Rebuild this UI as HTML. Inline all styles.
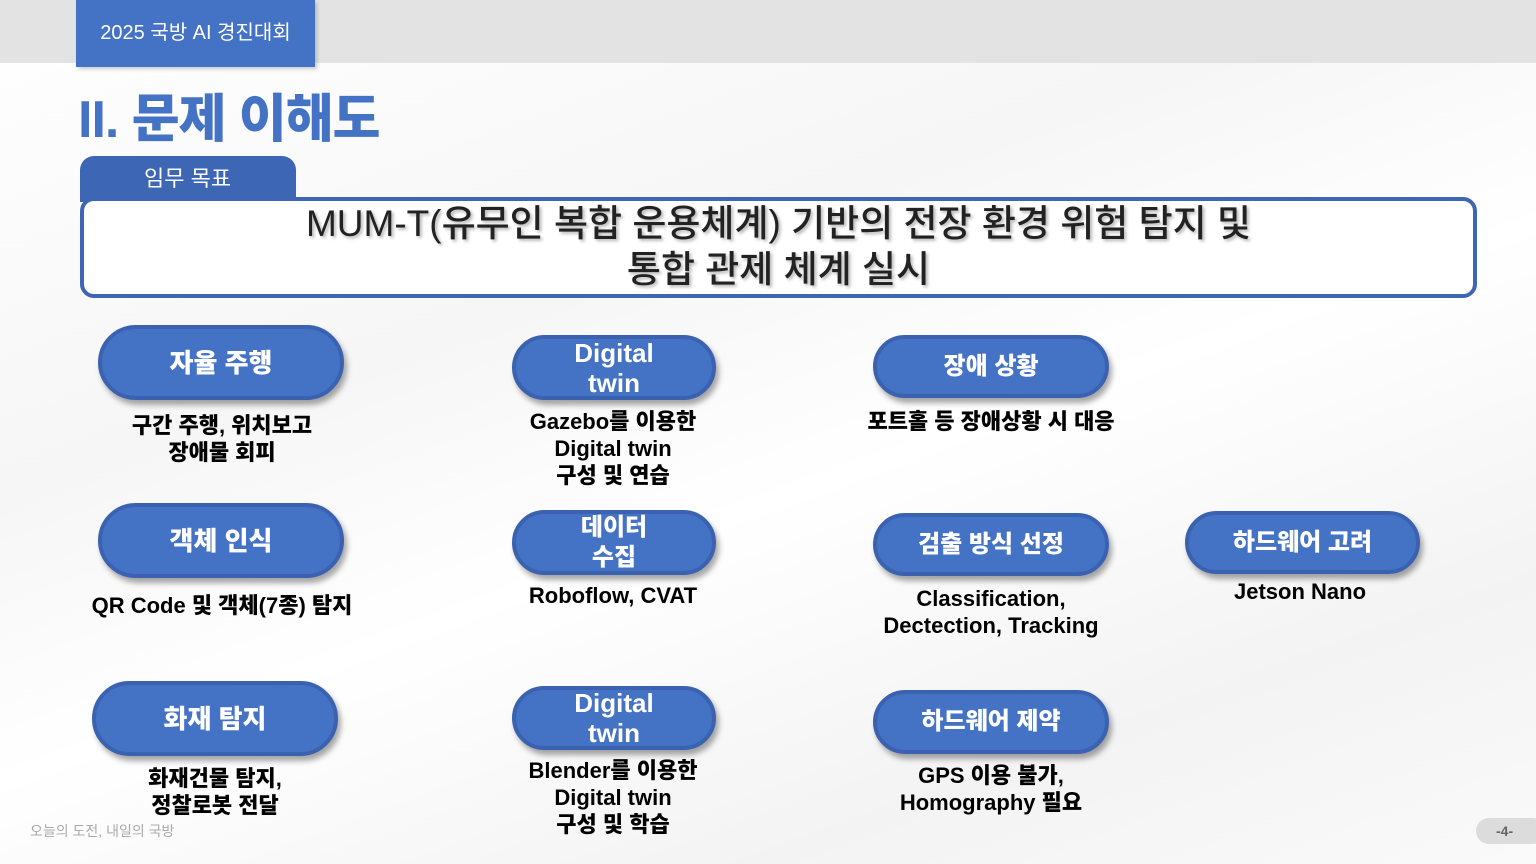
<!DOCTYPE html>
<html><head><meta charset="utf-8"><style>
*{margin:0;padding:0;box-sizing:border-box}
body{width:1536px;height:864px;overflow:hidden;position:relative;font-family:"Liberation Sans","Noto Sans CJK KR",sans-serif;background:linear-gradient(160deg,#ffffff 0%,#f6f6f6 35%,#ffffff 55%,#f3f3f3 80%,#fafafa 100%)}
.abs{position:absolute}
.pill{position:absolute;background:#4472c4;border:4px solid #3a62b0;border-radius:40px;color:#fff;font-weight:900;display:flex;align-items:center;justify-content:center;text-align:center;box-shadow:3px 5px 6px rgba(0,0,0,0.35);font-size:26px;line-height:30px}
.desc{position:absolute;text-align:center;font-weight:900;color:#000;font-size:22px;line-height:27px;transform:translateX(-50%);white-space:nowrap}
</style></head><body>
<div class="abs" style="left:0;top:0;width:1536px;height:63px;background:#e3e3e3"></div>
<div class="abs" style="left:76px;top:0;width:239px;height:67px;background:#4472c4;box-shadow:2px 2px 4px rgba(0,0,0,0.2);color:#fff;font-size:20px;line-height:67px;text-align:center">2025 국방 AI 경진대회</div>
<div class="abs" style="left:78px;top:88px;font-size:52px;font-weight:900;color:#4472c4;line-height:64px;letter-spacing:-1px">II. 문제 이해도</div>
<div class="abs" style="left:80px;top:156px;width:216px;height:46px;background:#3d66b5;border-radius:14px 14px 0 0;color:#fff;font-size:22px;line-height:46px;padding-left:64px">임무 목표</div>
<div class="abs" style="left:80px;top:197px;width:1397px;height:101px;border:4px solid #3d66b5;border-radius:14px;background:#fff"></div>
<div class="abs" style="left:80px;top:201px;width:1397px;text-align:center;font-size:37px;font-weight:500;line-height:46px;color:#222;text-shadow:2px 2px 3px rgba(0,0,0,0.3);white-space:nowrap">MUM-T(유무인 복합 운용체계) 기반의 전장 환경 위험 탐지 및<br>통합 관제 체계 실시</div>

<div class="pill" style="left:98px;top:325px;width:246px;height:75px">자율 주행</div>
<div class="desc" style="left:222px;top:412px">구간 주행, 위치보고<br>장애물 회피</div>
<div class="pill" style="left:512px;top:335px;width:204px;height:65px">Digital<br>twin</div>
<div class="desc" style="left:613px;top:408px">Gazebo를 이용한<br>Digital twin<br>구성 및 연습</div>
<div class="pill" style="left:873px;top:335px;width:236px;height:63px;font-size:24px">장애 상황</div>
<div class="desc" style="left:991px;top:408px">포트홀 등 장애상황 시 대응</div>

<div class="pill" style="left:98px;top:503px;width:246px;height:75px">객체 인식</div>
<div class="desc" style="left:222px;top:592px">QR Code 및 객체(7종) 탐지</div>
<div class="pill" style="left:512px;top:510px;width:204px;height:65px;font-size:24px">데이터<br>수집</div>
<div class="desc" style="left:613px;top:582px">Roboflow, CVAT</div>
<div class="pill" style="left:873px;top:513px;width:236px;height:63px;font-size:24px">검출 방식 선정</div>
<div class="desc" style="left:991px;top:585px">Classification,<br>Dectection, Tracking</div>
<div class="pill" style="left:1185px;top:511px;width:235px;height:63px;font-size:24px">하드웨어 고려</div>
<div class="desc" style="left:1300px;top:578px">Jetson Nano</div>

<div class="pill" style="left:92px;top:681px;width:246px;height:75px">화재 탐지</div>
<div class="desc" style="left:215px;top:765px">화재건물 탐지,<br>정찰로봇 전달</div>
<div class="pill" style="left:512px;top:686px;width:204px;height:64px">Digital<br>twin</div>
<div class="desc" style="left:613px;top:757px">Blender를 이용한<br>Digital twin<br>구성 및 학습</div>
<div class="pill" style="left:873px;top:690px;width:236px;height:64px;font-size:24px">하드웨어 제약</div>
<div class="desc" style="left:991px;top:762px">GPS 이용 불가,<br>Homography 필요</div>

<div class="abs" style="left:30px;top:821px;font-size:14px;color:#aaa">오늘의 도전, 내일의 국방</div>
<div class="abs" style="left:1476px;top:818px;width:70px;height:26px;border-radius:13px;background:#dcdcdc;color:#666;font-size:14px;font-weight:bold;line-height:26px;padding-left:20px">-4-</div>
</body></html>
